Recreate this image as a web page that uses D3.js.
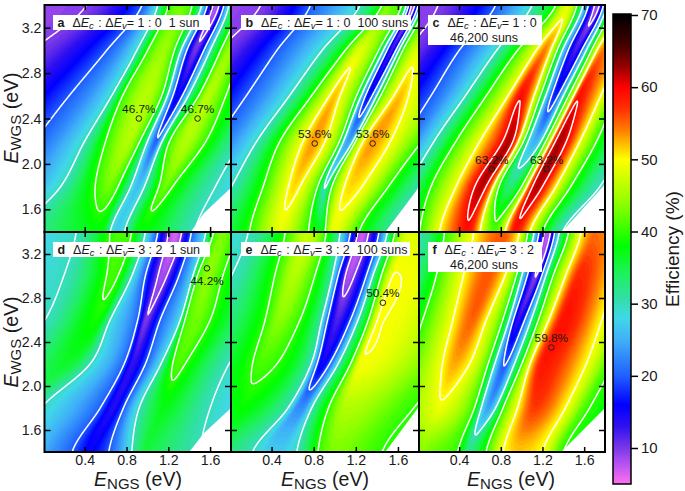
<!DOCTYPE html>
<html lang="en">
<head>
<meta charset="utf-8">
<title>Efficiency maps</title>
<script src="https://cdn.jsdelivr.net/npm/d3@7"></script>
<style>
  html, body { margin: 0; padding: 0; background: #fff; }
  svg { display: block; }
  text { font-family: "Liberation Sans", Arial, sans-serif; fill: #1a1a1a; white-space: pre; }
  .axis path { display: none; }
  .axis line { stroke: #000; stroke-width: 1.5; }
  .axis text { font-size: 14.2px; }
</style>
</head>
<body>
<script>
// row values of E_WGS (eV); each panel lists knots (E_NGS, efficiency) read along these rows
var rowsWGS = [1.4, 1.8, 2.2, 2.6, 3.0, 3.4];

var aX = [
  [-3,-2.1,-.8,-.21,.44,.50,.58,.64,.71,.78,.90,.96,1.03,1.45,3],
  [-3,-1.6,-.45,.17,.50,.63,.72,.84,.91,.97,1.11,1.17,1.24,1.65,3],
  [-3,-1.1,-.09,.40,.60,.82,.93,1.0,1.09,1.14,1.21,1.37,1.56,1.9,3],
  [-3,-.6,.25,.66,.76,.99,1.14,1.19,1.29,1.39,1.49,1.57,1.75,2.2,3.2],
  [-3,-.1,.61,.90,1.0,1.16,1.26,1.32,1.46,1.60,1.70,1.79,1.9,2.5,3.5],
  [-3,.42,.95,1.10,1.2,1.32,1.43,1.52,1.66,1.78,1.88,2.0,2.1,2.8,4]
];
var aV = [
  [6,10,20,30,37.5,38,37.5,30,27,30,37.5,38,37.5,30,20],
  [5,10,20,30,40,43,40,30,26,30,40,43,40,30,20],
  [5,10,20,30,40,46,40,30,19.8,30,40,46,40,30,20],
  [5,10,20,30,40,46.3,40,30,15,30,40,46.3,40,30,20],
  [5,10,20,30,40,45,40,30,10.4,30,40,45,40,30,20],
  [5,10,20,30,40,43,40,30,7.5,30,40,43,40,30,20]
];

var bX = [
  [-3,-2.2,-.8,-.2,.19,.44,.48,.52,.75,.82,.86,.90,.91,.96,.99,1.03,1.23,1.6,3],
  [-3,-1.6,-.45,.02,.32,.56,.615,.67,.84,.89,.91,.93,.97,1.09,1.15,1.26,1.51,1.85,3],
  [-3,-1,-.14,.26,.48,.70,.80,.91,1.05,1.08,1.13,1.18,1.19,1.27,1.36,1.53,1.83,2.2,3.2],
  [-3,-.5,.16,.57,.78,.95,1.0,1.05,1.21,1.25,1.32,1.40,1.43,1.56,1.62,1.70,2.2,2.6,3.5],
  [-3,-.1,.45,.88,1.10,1.21,1.24,1.27,1.42,1.46,1.54,1.61,1.64,1.77,1.80,1.83,2.5,2.9,4],
  [-3,.3,.77,1.24,1.45,1.48,1.5,1.52,1.64,1.68,1.74,1.82,1.85,1.98,2.0,2.02,2.8,3.2,4.5]
];
var bV = [
  [6,10,20,30,40,48.5,49,48.5,40,38,37,38,40,48.5,49,48.5,40,30,20],
  [5,10,20,30,40,50,51.5,50,40,31,29,31,40,50,51.5,50,40,30,20],
  [5,10,20,30,40,50,53.6,50,40,30,23.5,30,40,50,53.6,50,40,30,20],
  [5,10,20,30,40,50,52.5,50,40,30,16,30,40,50,52.5,50,40,30,20],
  [5,10,20,30,40,48,48.5,48,40,30,12,30,40,48,48.5,48,40,30,20],
  [5,10,20,30,40,43,44,43,40,30,7,30,40,43,44,43,40,30,20]
];

var cX = [
  [-3,-2,-.8,-.2,.02,.21,.44,.46,.50,.60,.70,.72,.73,.74,.76,.84,.92,.94,.96,1.08,1.2,1.39,3],
  [-3,-1.5,-.45,-.08,.13,.37,.55,.61,.66,.73,.78,.84,.87,.94,1.0,1.05,1.10,1.15,1.20,1.33,1.47,1.75,3],
  [-3,-1,-.15,.16,.37,.60,.82,.87,.92,.97,1.02,1.06,1.13,1.19,1.23,1.28,1.32,1.37,1.43,1.56,1.72,2.0,3],
  [-3,-.5,.13,.46,.66,.87,.98,1.0,1.02,1.12,1.18,1.23,1.32,1.40,1.45,1.50,1.54,1.56,1.58,1.76,1.9,2.2,3.2],
  [-3,-.1,.40,.76,.96,1.14,1.20,1.22,1.25,1.28,1.34,1.39,1.52,1.62,1.67,1.72,1.76,1.79,1.82,1.95,2.1,2.4,3.5],
  [-3,.2,.75,1.1,1.33,1.39,1.42,1.44,1.46,1.49,1.53,1.59,1.73,1.82,1.87,1.92,1.98,2.0,2.02,2.1,2.3,2.6,4]
];
var cV = [
  [8,10,20,30,40,50,59,59.5,59,50,42,41.5,41,41.5,42,50,59,59.5,59,50,40,30,20],
  [6,10,20,30,40,50,60,62.5,60,50,40,35,33,35,40,50,60,62.5,60,50,40,30,20],
  [5,10,20,30,40,50,60,62.8,60,50,40,30,25,30,40,50,60,62.8,60,50,40,30,20],
  [5,10,20,30,40,50,59.5,59.8,59,50,40,30,17,30,40,50,59.5,59.8,59,50,40,30,20],
  [5,10,20,30,40,50,54,55,53,50,40,30,12,30,40,50,54,55,54,50,40,30,20],
  [5,10,20,30,40,47,48,49,48,47,40,30,8,30,40,47,48,49,48,47,40,30,20]
];

var dX = [
  [-2,-.9,-.5,-.4,-.3,-.2,.28,.45,.63,.85,.96,.98,1.02,1.5,3],
  [-2,-.6,-.35,-.25,-.15,-.02,.55,.67,.77,.92,1.12,1.15,1.2,1.6,3],
  [-2,-.3,.1,.2,.3,.45,.78,.85,.98,1.13,1.24,1.3,1.36,1.78,3],
  [-2,.02,.42,.50,.56,.64,.91,.98,1.12,1.32,1.35,1.47,1.60,2.05,3.2],
  [-2,.2,.61,.64,.72,.85,.98,1.145,1.30,1.44,1.47,1.58,1.72,2.3,3.5],
  [-2,.32,.64,.74,.85,.98,1.10,1.27,1.42,1.56,1.63,1.72,1.85,2.5,4]
];
var dV = [
  [22,30,31,32,31,29,20,16,20,30,35.5,36,35.5,30,20],
  [22,30,32,33,32,30,20,14,20,30,37,37.5,37,30,20],
  [22,30,35.5,36.5,35.5,30,20,13,20,30,40,41.5,40,30,20],
  [22,30,38,39,38,30,20,10,20,30,40,43,40,30,20],
  [22,30,40,41,40,30,20,8.5,20,30,40,44.2,40,30,20],
  [22,30,40,41.5,40,30,20,6.5,20,30,40,43.5,40,30,20]
];

var eX = [
  [-2,-.9,-.15,-.1,-.05,.22,.40,.43,.46,.64,.84,1.0,1.45,3],
  [-2,-.7,.08,.12,.18,.56,.64,.67,.70,.78,.94,1.10,1.75,3],
  [-2,-.45,.22,.29,.45,.78,.83,.876,.95,1.03,1.15,1.24,2.1,3],
  [-2,-.2,.34,.46,.67,.88,.93,1.02,1.15,1.22,1.32,1.40,2.4,3.2],
  [-2,.02,.43,.61,.81,.98,1.03,1.13,1.30,1.36,1.44,1.55,2.6,3.5],
  [-2,.18,.53,.75,.92,1.05,1.15,1.26,1.42,1.5,1.57,1.7,2.8,4]
];
var eV = [
  [24,30,34,35,34,30,27,27,27,30,40,43.5,40,30],
  [24,30,38,38.5,38,30,23,23,23,30,40,46,40,30],
  [24,30,40,41.2,40,30,20,15,20,30,40,49.7,40,30],
  [24,30,40,44,40,30,20,12,20,30,40,50.1,40,30],
  [22,30,40,46,40,30,20,8.2,20,30,40,50.1,40,30],
  [20,30,40,47.5,40,30,20,7,20,30,40,48.5,40,30]
];

var fX = [
  [-2,-.9,-.5,.03,.05,.08,.39,.48,.50,.52,.66,.82,.97,1.2,1.4,3],
  [-2,-.7,-.3,.18,.2,.24,.55,.61,.68,.75,.82,.96,1.12,1.42,1.65,3],
  [-2,-.5,-.1,.24,.35,.50,.68,.74,.84,.93,1.0,1.08,1.20,1.62,1.88,3],
  [-2,-.3,.05,.34,.52,.66,.82,.88,.96,1.09,1.16,1.26,1.40,1.77,2.1,3.2],
  [-2,-.1,.18,.44,.67,.84,.95,1.0,1.14,1.23,1.30,1.42,1.55,1.90,2.3,3.5],
  [-2,0,.26,.54,.82,.98,1.06,1.12,1.25,1.36,1.45,1.57,1.7,2.0,2.5,4]
];
var fV = [
  [20,30,40,43.5,44,43.5,40,33,32.5,33,40,50,52,50,40,30],
  [20,30,40,49,49.3,49,40,30,24,30,40,50,57,50,40,30],
  [20,30,40,50,53,50,40,30,19.5,30,40,50,59,50,40,30],
  [20,30,40,50,55.5,50,40,30,13,30,40,50,59.5,50,40,30],
  [20,30,40,50,56,50,40,30,9.5,30,40,50,58,50,40,30],
  [20,30,40,50,56,50,40,30,7,30,40,50,55,50,40,30]
];

// blank corner, no data below this edge (E_NGS, E_WGS)
var edgeA = [[1.415, 1.4], [1.54, 1.565], [1.8, 1.79]];
var edgeB = [[1.48, 1.4], [1.78, 1.77], [1.8, 1.82]];
var edgeC = [[1.385, 1.4], [1.8, 1.82]];
var edgeD = [[1.4, 1.4], [1.54, 1.57], [1.8, 1.8]];
var edgeE = [[1.48, 1.4], [1.79, 1.8], [1.8, 1.82]];
var edgeF = [[1.38, 1.4], [1.8, 1.8]];

// best points: E_NGS, E_WGS, label
var bestA = [[.918, 2.4, "46.7%"], [1.48, 2.4, "46.7%"]];
var bestB = [[.81, 2.18, "53.6%"], [1.36, 2.18, "53.6%"]];
var bestC = [[.714, 1.955, "63.2%"], [1.24, 1.955, "63.2%"]];
var bestD = [[1.57, 3.07, "44.2%"]];
var bestE = [[1.457, 2.757, "50.4%"]];
var bestF = [[1.285, 2.35, "59.8%"]];

var ticksX = [0.4, 0.8, 1.2, 1.6];
var ticksY = [1.6, 2.0, 2.4, 2.8, 3.2];
var ticksBar = [10, 20, 30, 40, 50, 60, 70];
var contourLevels = [10, 20, 30, 40, 50, 60];

var colorValues = [5, 8, 10, 13, 16, 20, 25, 28, 31, 34, 38, 44, 50, 52, 54, 57, 60, 63, 66, 70];
var colorStops = ["#ff70f0", "#b050f0", "#7a38e8", "#3010f0", "#0000ff", "#2060ff", "#40b0f8", "#40d8e8",
  "#30e0a0", "#20f060", "#00ff00", "#90ff00", "#ffff00", "#ffc000", "#ff8000", "#ff3000", "#ff0000", "#900000", "#400000", "#000000"];

var color = d3.scaleLinear().domain(colorValues).range(colorStops);

var panels = [
  {id: "a", xs: aX, vs: aV, edge: edgeA, best: bestA, col: 0, row: 0, ratio: "1 : 0", sun: "1 sun", below: false},
  {id: "b", xs: bX, vs: bV, edge: edgeB, best: bestB, col: 1, row: 0, ratio: "1 : 0", sun: "100 suns", below: false},
  {id: "c", xs: cX, vs: cV, edge: edgeC, best: bestC, col: 2, row: 0, ratio: "1 : 0", sun: "46,200 suns", below: false},
  {id: "d", xs: dX, vs: dV, edge: edgeD, best: bestD, col: 0, row: 1, ratio: "3 : 2", sun: "1 sun", below: true},
  {id: "e", xs: eX, vs: eV, edge: edgeE, best: bestE, col: 1, row: 1, ratio: "3 : 2", sun: "100 suns", below: false},
  {id: "f", xs: fX, vs: fV, edge: edgeF, best: bestF, col: 2, row: 1, ratio: "3 : 2", sun: "46,200 suns", below: false}
];

var w = 685, h = 491;
var colEdges = [[44.5, 231], [231, 419], [419, 605]];
var rowEdges = [[5, 232], [232, 452]];
var boxes = [
  [[53, 15, 157, 15], [241, 15, 170, 15], [428, 15, 114, 30]],
  [[53, 242, 157, 15], [241, 242, 169, 14], [428, 242, 114, 30]]
];

var svg = d3.select("body").append("svg").attr("width", w).attr("height", h);

// smooth step from row to row through four neighbouring rows
function rowBlend(table, j, k, t) {
  var p0 = table[Math.max(j - 1, 0)][k], p1 = table[j][k], p2 = table[j + 1][k], p3 = table[Math.min(j + 2, table.length - 1)][k];
  return 0.5 * (2 * p1 + (p2 - p0) * t + (2 * p0 - 5 * p1 + 4 * p2 - p3) * t * t + (3 * p1 - p0 - 3 * p2 + p3) * t * t * t);
}

// knots of one row, at height y
function rowKnots(p, y) {
  var j = Math.max(Math.min(d3.bisectRight(rowsWGS, y) - 1, rowsWGS.length - 2), 0);
  var t = (y - rowsWGS[j]) / (rowsWGS[j + 1] - rowsWGS[j]);
  var kx = [], kv = [];
  for (var k = 0; k < p.xs[j].length; k++) {
    kx.push(rowBlend(p.xs, j, k, t));
    kv.push(rowBlend(p.vs, j, k, t));
  }
  return {kx: kx, kv: kv};
}

// value along a row, flat at ridge and trough knots so peaks come out round
function rowValue(knots, x) {
  var kx = knots.kx, kv = knots.kv, n = kx.length;
  if (x <= kx[0]) return kv[0];
  if (x >= kx[n - 1]) return kv[n - 1];
  var i = Math.min(d3.bisectRight(kx, x) - 1, n - 2);
  var dx = Math.max(kx[i + 1] - kx[i], 1e-4);
  var slope = (kv[i + 1] - kv[i]) / dx;
  function tangent(q) {
    if (q <= 0 || q >= n - 1) return 0;
    var s0 = (kv[q] - kv[q - 1]) / Math.max(kx[q] - kx[q - 1], 1e-4);
    var s1 = (kv[q + 1] - kv[q]) / Math.max(kx[q + 1] - kx[q], 1e-4);
    if (s0 * s1 <= 0) return 0;
    return 2 * s0 * s1 / (s0 + s1);
  }
  var m0 = tangent(i), m1 = tangent(i + 1);
  var u = (x - kx[i]) / dx;
  return kv[i] + dx * u * (m0 + u * (3 * slope - 2 * m0 - m1 + u * (m0 + m1 - 2 * slope)));
}

function drawPanel(p, i) {
  var xr = colEdges[p.col], yr = rowEdges[p.row];
  var xScale = d3.scaleLinear().domain([0.015, 1.8]).range(xr);
  var yScale = d3.scaleLinear().domain([1.4, 3.4]).range([yr[1], yr[0]]);

  // fine grid a little wider than the frame so rings close outside the clip
  var nx = 240, ny = 260, pad = 0.06;
  var gx = d3.scaleLinear().domain([0, nx - 1]).range([0.015 - pad, 1.8 + pad]);
  var gy = d3.scaleLinear().domain([0, ny - 1]).range([3.4 + pad, 1.4 - pad]);
  var values = new Float64Array(nx * ny);
  for (var r = 0; r < ny; r++) {
    var knots = rowKnots(p, gy(r));
    for (var c = 0; c < nx; c++) values[r * nx + c] = rowValue(knots, gx(c));
  }
  d3.blur2({data: values, width: nx, height: ny}, 1);

  var path = d3.geoPath(d3.geoTransform({
    point: function(px, py) { this.stream.point(xScale(gx(px - 0.5)), yScale(gy(py - 0.5))); }
  }));
  var contours = d3.contours().size([nx, ny]);

  var clipId = "clip-" + p.id;
  svg.append("clipPath").attr("id", clipId).append("rect")
    .attr("x", xr[0]).attr("y", yr[0]).attr("width", xr[1] - xr[0]).attr("height", yr[1] - yr[0]);
  var g = svg.append("g").attr("clip-path", "url(#" + clipId + ")");

  g.selectAll("path.band")
    .data(contours.thresholds(d3.range(4, 70, 0.5))(values))
    .enter().append("path")
    .attr("class", "band")
    .attr("d", path)
    .attr("fill", function(d) { return color(d.value); });

  g.selectAll("path.level")
    .data(contours.thresholds(contourLevels)(values))
    .enter().append("path")
    .attr("class", "level")
    .attr("d", path)
    .attr("fill", "none")
    .attr("stroke", "#fff")
    .attr("stroke-width", 1.5);

  // blank corner
  var corner = p.edge.concat([[1.9, 1.9], [1.9, 1.3], [p.edge[0][0], 1.3]]);
  g.append("path")
    .attr("d", d3.line().x(function(d) { return xScale(d[0]); }).y(function(d) { return yScale(d[1]); })(corner) + "Z")
    .attr("fill", "#fff");

  // frame and ticks on all sides
  var bottom = d3.axisBottom(xScale).tickValues(ticksX).tickSize(-5).tickPadding(3).tickFormat(d3.format(".1f"));
  var top = d3.axisTop(xScale).tickValues(ticksX).tickSize(-5).tickFormat("");
  var left = d3.axisLeft(yScale).tickValues(ticksY).tickSize(-6).tickPadding(3).tickFormat(d3.format(".1f"));
  var right = d3.axisRight(yScale).tickValues(ticksY).tickSize(-6).tickFormat("");
  if (p.row === 0) bottom.tickFormat("");
  if (p.col > 0) left.tickFormat("");
  svg.append("g").attr("class", "axis").attr("transform", "translate(0," + yr[1] + ")").call(bottom);
  svg.append("g").attr("class", "axis").attr("transform", "translate(0," + yr[0] + ")").call(top);
  svg.append("g").attr("class", "axis").attr("transform", "translate(" + xr[0] + ",0)").call(left);
  svg.append("g").attr("class", "axis").attr("transform", "translate(" + xr[1] + ",0)").call(right);
  svg.append("rect")
    .attr("x", xr[0]).attr("y", yr[0]).attr("width", xr[1] - xr[0]).attr("height", yr[1] - yr[0])
    .attr("fill", "none").attr("stroke", "#000").attr("stroke-width", 2);

  // title box
  var box = boxes[p.row][p.col];
  svg.append("rect").attr("x", box[0]).attr("y", box[1]).attr("width", box[2]).attr("height", box[3]).attr("fill", "#fff");
  var two = p.sun.indexOf("46") === 0;
  var t = svg.append("text").attr("x", box[0] + 4.5).attr("y", box[1] + 11.5).attr("font-size", 12.5);
  t.append("tspan").attr("font-weight", "bold").text(p.id);
  t.append("tspan").attr("dx", 1).text("  \u0394");
  t.append("tspan").attr("font-style", "italic").text("E");
  t.append("tspan").attr("font-style", "italic").attr("font-size", 9.5).attr("dy", 2).text("c");
  t.append("tspan").attr("dy", -2).attr("dx", 1).text(" : \u0394");
  t.append("tspan").attr("font-style", "italic").text("E");
  t.append("tspan").attr("font-style", "italic").attr("font-size", 9.5).attr("dy", 2).text("v");
  t.append("tspan").attr("dy", -2).text("= " + p.ratio);
  if (!two) t.append("tspan").text("  " + p.sun);
  if (two) {
    svg.append("text").attr("x", box[0] + box[2] / 2 - 1).attr("y", box[1] + 26.5).attr("text-anchor", "middle")
      .attr("font-size", 12.5).text(p.sun);
  }

  // best points
  p.best.forEach(function(b) {
    svg.append("circle").attr("cx", xScale(b[0])).attr("cy", yScale(b[1])).attr("r", 2.8)
      .attr("fill", "none").attr("stroke", "#222").attr("stroke-width", 1);
    svg.append("text").attr("x", xScale(b[0])).attr("y", yScale(b[1]) + (p.below ? 17 : -5.5))
      .attr("text-anchor", "middle").attr("font-size", 11.8).text(b[2]);
  });
}

panels.forEach(drawPanel);

// axis titles
function axisTitle(sel, sub) {
  sel.attr("font-size", 19.5);
  sel.append("tspan").attr("font-style", "italic").text("E");
  sel.append("tspan").attr("font-size", 15).attr("dy", 3).text(sub);
  sel.append("tspan").attr("dy", -3).text(" (eV)");
}
[118, 342].forEach(function(cy) {
  svg.append("text").attr("transform", "translate(17.8," + cy + ") rotate(-90)")
    .attr("text-anchor", "middle").call(axisTitle, "WGS");
});
[138, 325, 511].forEach(function(cx) {
  svg.append("text").attr("x", cx).attr("y", 486).attr("text-anchor", "middle").call(axisTitle, "NGS");
});

// colour bar
var barScale = d3.scaleLinear().domain([70, 10]).range([15, 448]);
var barX = 613, barW = 18, barTop = 14, barBottom = 484;
var grad = svg.append("defs").append("linearGradient").attr("id", "bar").attr("x1", 0).attr("x2", 0).attr("y1", 0).attr("y2", 1);
colorValues.slice().reverse().forEach(function(v) {
  grad.append("stop")
    .attr("offset", (barScale(v) - barTop) / (barBottom - barTop))
    .attr("stop-color", color(v));
});
svg.append("rect").attr("x", barX).attr("y", barTop).attr("width", barW).attr("height", barBottom - barTop)
  .attr("fill", "url(#bar)").attr("stroke", "#000").attr("stroke-width", 1.5);
svg.append("g").attr("class", "axis").attr("transform", "translate(" + (barX + barW) + ",0)")
  .call(d3.axisRight(barScale).tickValues(ticksBar).tickSize(7).tickPadding(3).tickFormat(d3.format("d")))
  .selectAll("text").style("font-size", "15px");
svg.append("text").attr("transform", "translate(679,249) rotate(-90)").attr("text-anchor", "middle")
  .attr("font-size", 19).text("Efficiency (%)");
</script>
</body>
</html>
